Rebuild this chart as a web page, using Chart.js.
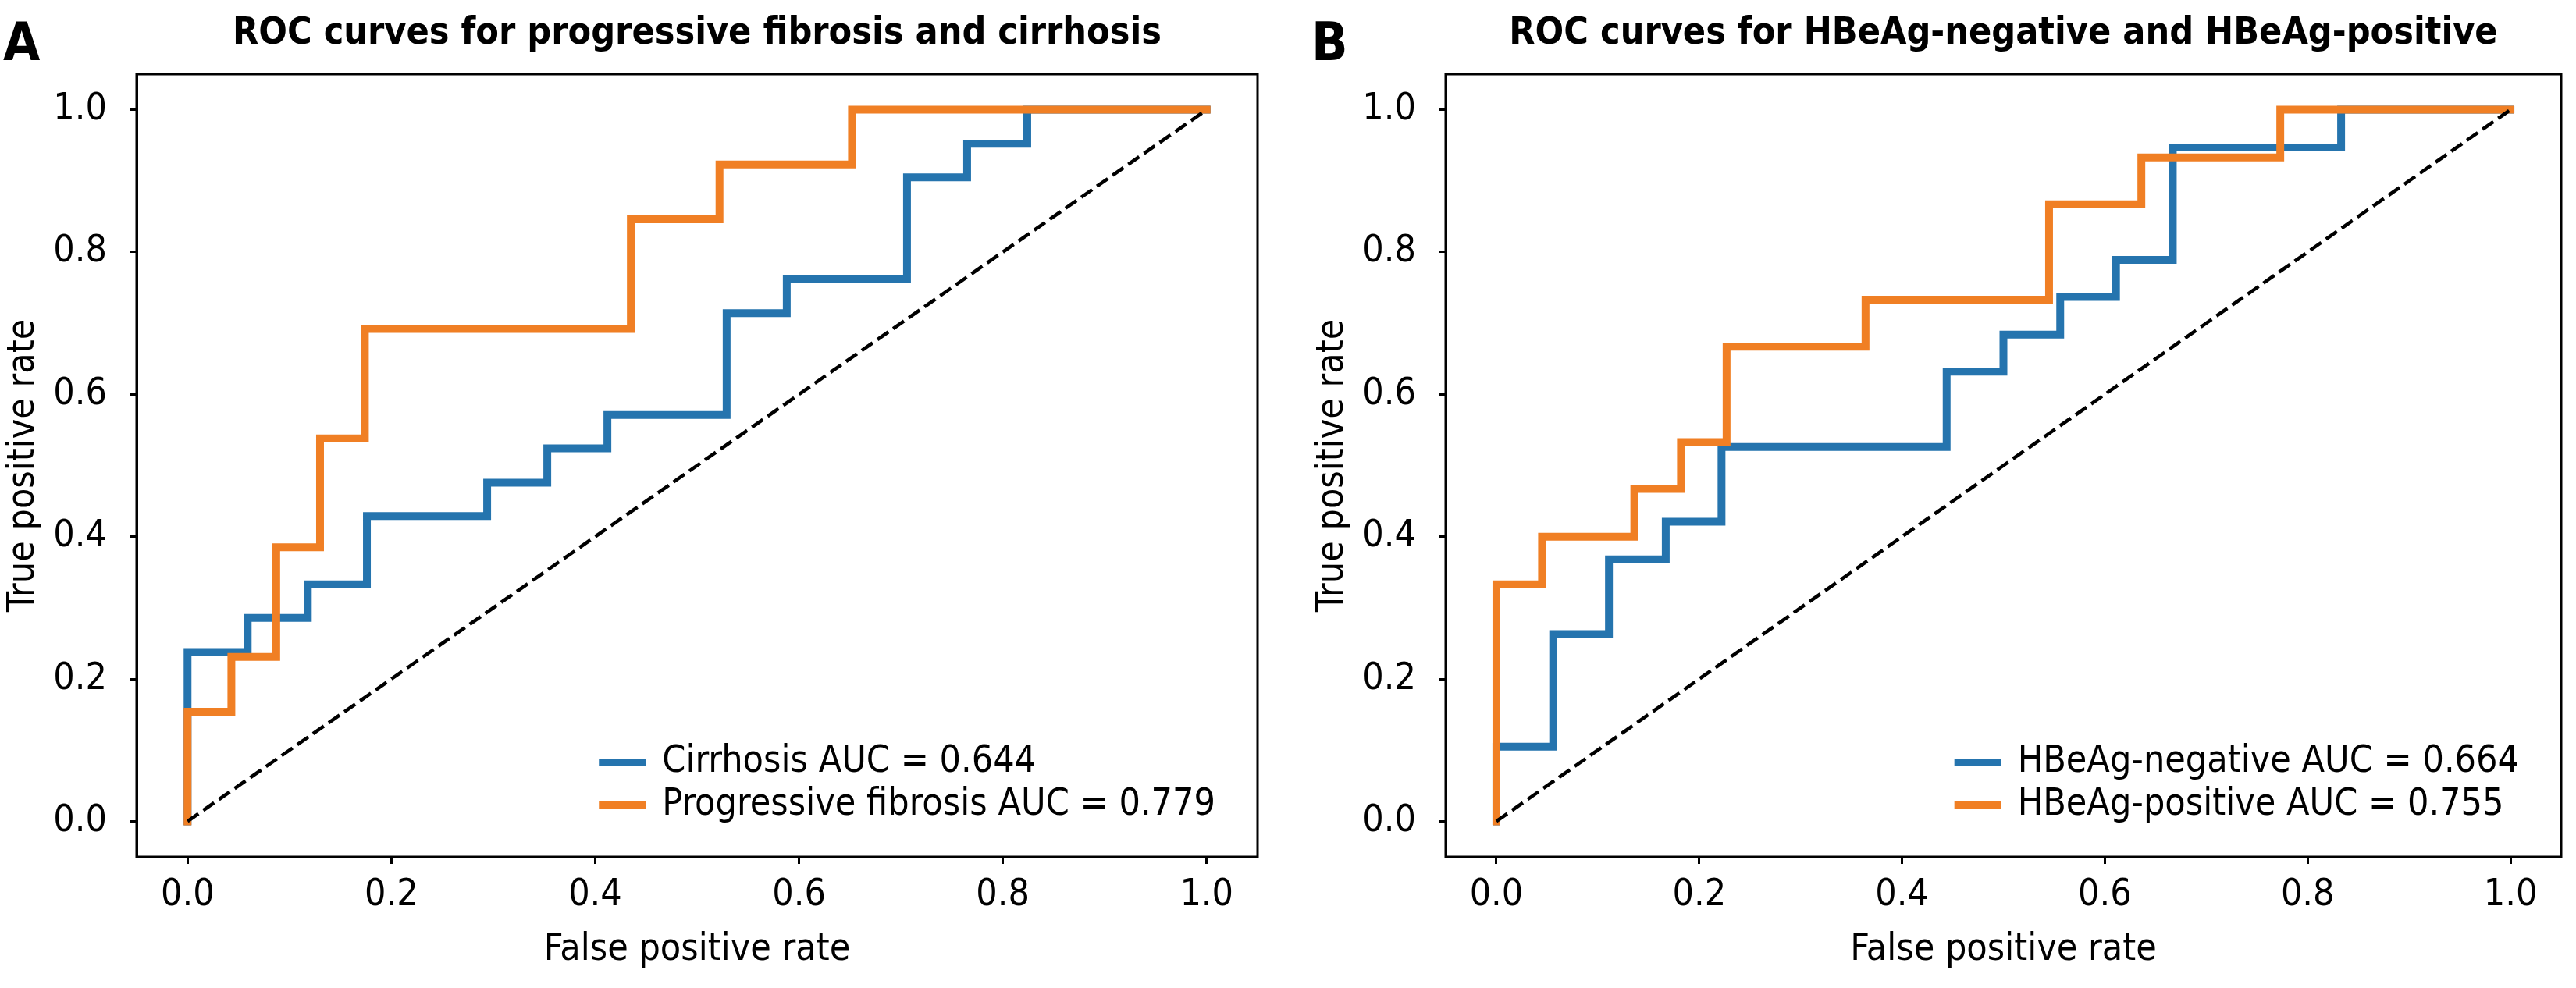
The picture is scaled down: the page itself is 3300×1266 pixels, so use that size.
<!DOCTYPE html>
<html><head><meta charset="utf-8">
<script src="https://cdn.jsdelivr.net/npm/chart.js@4"></script>
<style>
html,body{margin:0;padding:0;background:#fff;width:3300px;height:1266px;overflow:hidden;position:relative;}
canvas{position:absolute;top:0;}
.letter{position:absolute;font-family:'DejaVu Sans Condensed','DejaVu Sans',sans-serif;font-weight:bold;font-size:68px;line-height:68px;color:#000;}
</style></head><body>
<div class="letter" style="left:4px;top:20px">A</div>
<div class="letter" style="left:1680px;top:20px">B</div>
<canvas id="cA" width="1650" height="1266" style="left:0;width:1650px;height:1266px"></canvas>
<canvas id="cB" width="1623" height="1266" style="left:1677px;width:1623px;height:1266px"></canvas>
<script>
const FONT = "'DejaVu Sans Condensed', 'DejaVu Sans', sans-serif";
const BLUE = '#2574ae';
const ORANGE = '#f07f24';

const tickValues = [0.0, 0.2, 0.4, 0.6, 0.8, 1.0];
const tickLabels = ['0.0', '0.2', '0.4', '0.6', '0.8', '1.0'];
const xLabel = 'False positive rate';
const yLabel = 'True positive rate';
const titleA = 'ROC curves for progressive fibrosis and cirrhosis';
const titleB = 'ROC curves for HBeAg-negative and HBeAg-positive';
const chanceFpr = [0, 1];
const chanceTpr = [0, 1];

// Panel A
const cirrhosisLabel = 'Cirrhosis AUC = 0.644';
const cirrhosisFpr = [0, 0, 0.059, 0.059, 0.118, 0.118, 0.176, 0.176, 0.294, 0.294, 0.353, 0.353, 0.412, 0.412, 0.529, 0.529, 0.588, 0.588, 0.706, 0.706, 0.765, 0.765, 0.824, 0.824, 1];
const cirrhosisTpr = [0, 0.238, 0.238, 0.286, 0.286, 0.333, 0.333, 0.429, 0.429, 0.476, 0.476, 0.524, 0.524, 0.571, 0.571, 0.714, 0.714, 0.762, 0.762, 0.905, 0.905, 0.952, 0.952, 1, 1];
const fibrosisLabel = 'Progressive fibrosis AUC = 0.779';
const fibrosisFpr = [0, 0, 0.043, 0.043, 0.087, 0.087, 0.130, 0.130, 0.174, 0.174, 0.435, 0.435, 0.522, 0.522, 0.652, 0.652, 1];
const fibrosisTpr = [0, 0.154, 0.154, 0.231, 0.231, 0.385, 0.385, 0.538, 0.538, 0.692, 0.692, 0.846, 0.846, 0.923, 0.923, 1, 1];

// Panel B
const negLabel = 'HBeAg-negative AUC = 0.664';
const negFpr = [0, 0, 0.056, 0.056, 0.111, 0.111, 0.167, 0.167, 0.222, 0.222, 0.444, 0.444, 0.5, 0.5, 0.556, 0.556, 0.611, 0.611, 0.667, 0.667, 0.833, 0.833, 1];
const negTpr = [0, 0.105, 0.105, 0.263, 0.263, 0.368, 0.368, 0.421, 0.421, 0.526, 0.526, 0.632, 0.632, 0.684, 0.684, 0.737, 0.737, 0.789, 0.789, 0.947, 0.947, 1, 1];
const posLabel = 'HBeAg-positive AUC = 0.755';
const posFpr = [0, 0, 0.045, 0.045, 0.136, 0.136, 0.182, 0.182, 0.227, 0.227, 0.364, 0.364, 0.545, 0.545, 0.636, 0.636, 0.773, 0.773, 1];
const posTpr = [0, 0.333, 0.333, 0.4, 0.4, 0.467, 0.467, 0.533, 0.533, 0.667, 0.667, 0.733, 0.733, 0.867, 0.867, 0.933, 0.933, 1, 1];

const toPts = (xs, ys) => xs.map((x, i) => ({x: x, y: ys[i]}));

function rocDataset(label, xs, ys, color, order) {
  return {label, data: toPts(xs, ys), borderColor: color, backgroundColor: color,
    borderWidth: 10, pointRadius: 0, pointHoverRadius: 0, tension: 0, fill: false,
    borderCapStyle: 'square', borderJoinStyle: 'miter', order};
}
function chanceDataset() {
  return {label: '', data: toPts(chanceFpr, chanceTpr), borderColor: '#000', borderWidth: 4.5,
    borderDash: [17, 7.5], pointRadius: 0, tension: 0, fill: false, order: 0};
}

const framePlugin = {
  id: 'frame',
  afterDraw(chart) {
    const {ctx, chartArea: a} = chart;
    ctx.save();
    ctx.strokeStyle = '#000'; ctx.lineWidth = 3;
    ctx.strokeRect(a.left, a.top, a.right - a.left, a.bottom - a.top);
    ctx.restore();
  }
};
const legendPlugin = {
  id: 'innerLegend',
  afterDatasetsDraw(chart) {
    const {ctx, chartArea: a} = chart;
    const items = chart.data.datasets.filter(d => d.label);
    ctx.save();
    ctx.font = '48px ' + FONT;
    const maxW = Math.max(...items.map(d => ctx.measureText(d.label).width));
    const textX = a.right - 54 - maxW;
    const rowOffsets = [121, 66.5];
    items.forEach((d, i) => {
      const y = a.bottom - rowOffsets[i];
      ctx.strokeStyle = d.borderColor; ctx.lineWidth = 10; ctx.lineCap = 'butt';
      ctx.beginPath(); ctx.moveTo(textX - 81, y); ctx.lineTo(textX - 21, y); ctx.stroke();
      ctx.fillStyle = '#000'; ctx.textBaseline = 'middle'; ctx.textAlign = 'left';
      ctx.fillText(d.label, textX, y);
    });
    ctx.restore();
  }
};

function axisCommon() {
  return {
    type: 'linear', min: -0.05, max: 1.05,
    afterBuildTicks: s => { s.ticks = tickValues.map(v => ({value: v})); },
    grid: {display: true, drawOnChartArea: false, drawTicks: true, tickLength: 9, tickWidth: 3, tickColor: '#000'},
    border: {display: true, color: '#000', width: 3},
  };
}

function makeChart(id, title, datasets, rightPad) {
  const xs = axisCommon();
  xs.position = 'bottom';
  xs.ticks = {color: '#000', padding: 12, maxRotation: 0, font: {size: 48, family: FONT},
    callback: (v) => tickLabels[tickValues.indexOf(Math.round(v * 10) / 10)] ?? ''};
  xs.title = {display: true, text: xLabel, color: '#000', font: {size: 48, family: FONT}, padding: {top: 0, bottom: 20}};
  xs.afterFit = s => { s.height = 168; };
  const ys = axisCommon();
  ys.position = 'left';
  ys.ticks = {color: '#000', padding: 29, font: {size: 48, family: FONT},
    callback: (v) => tickLabels[tickValues.indexOf(Math.round(v * 10) / 10)] ?? ''};
  ys.title = {display: true, text: yLabel, color: '#000', font: {size: 48, family: FONT}, padding: {top: 2, bottom: 0}};
  ys.afterFit = s => { s.width = 175; };
  return new Chart(document.getElementById(id), {
    type: 'line',
    data: {datasets},
    options: {
      responsive: false, animation: false, devicePixelRatio: 1,
      layout: {padding: {left: 0, right: rightPad, top: 0, bottom: 0}, autoPadding: false},
      scales: {x: xs, y: ys},
      plugins: {
        legend: {display: false},
        tooltip: {enabled: false},
        title: {display: true, text: title, fullSize: false, color: '#000',
          font: {size: 48, weight: 'bold', family: FONT}, padding: {top: 14.6, bottom: 22.8}}
      }
    },
    plugins: [framePlugin, legendPlugin]
  });
}

makeChart('cA', titleA, [
  rocDataset(cirrhosisLabel, cirrhosisFpr, cirrhosisTpr, BLUE, 2),
  rocDataset(fibrosisLabel, fibrosisFpr, fibrosisTpr, ORANGE, 1),
  chanceDataset()
], 39);
makeChart('cB', titleB, [
  rocDataset(negLabel, negFpr, negTpr, BLUE, 2),
  rocDataset(posLabel, posFpr, posTpr, ORANGE, 1),
  chanceDataset()
], 19);
</script>
</body></html>
